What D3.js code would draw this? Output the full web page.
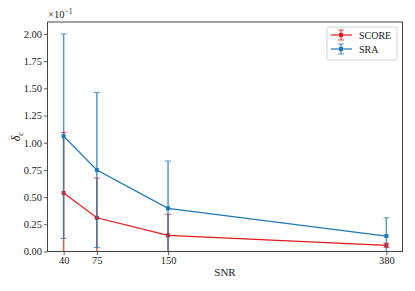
<!DOCTYPE html>
<html><head><meta charset="utf-8">
<script src="https://cdn.jsdelivr.net/npm/d3@7"></script>
<style>body{margin:0;background:#fff}</style>
</head><body><svg id="c" width="415" height="291"></svg>
<script>
const snr = [40, 75, 150, 380];
const xTicks = [40, 75, 150, 380];
const yTicks = [0, 0.25, 0.5, 0.75, 1.0, 1.25, 1.5, 1.75, 2.0];
const scoreMean = [0.538, 0.31, 0.149, 0.057];
const scoreErr = [0.557, 0.365, 0.193, 0.02];
const sraMean = [1.06, 0.749, 0.397, 0.142];
const sraErr = [0.94, 0.712, 0.435, 0.168];
const seriesNames = ["SCORE", "SRA"];
const colors = ["#e41a1c", "#1f78b4"];
const FONT = "'Liberation Serif', 'DejaVu Serif', serif";

const svg = d3.select("#c");
const L = 47.5, R = 402.5, T = 22, B = 251.5;
const x = d3.scaleLinear().domain([23, 397]).range([L, R]);
const y = d3.scaleLinear().domain([0, 2.11]).range([B, T]);

svg.append("clipPath").attr("id", "clip").append("rect")
  .attr("x", L).attr("y", T).attr("width", R - L).attr("height", B - T);

const series = [
  {name: seriesNames[0], mean: scoreMean, err: scoreErr, color: colors[0]},
  {name: seriesNames[1], mean: sraMean, err: sraErr, color: colors[1]}
];

const g = svg.append("g").attr("clip-path", "url(#clip)");
series.forEach(s => {
  const pts = snr.map((v, i) => ({x: v, m: s.mean[i], e: s.err[i]}));
  const eb = g.append("g").attr("opacity", 0.75);
  pts.forEach(p => {
    eb.append("line").attr("x1", x(p.x)).attr("x2", x(p.x))
      .attr("y1", y(p.m - p.e)).attr("y2", y(p.m + p.e))
      .attr("stroke", s.color).attr("stroke-width", 1.5);
    [p.m - p.e, p.m + p.e].forEach(v => {
      eb.append("line").attr("x1", x(p.x) - 3).attr("x2", x(p.x) + 3)
        .attr("y1", y(v)).attr("y2", y(v))
        .attr("stroke", s.color).attr("stroke-width", 1);
    });
  });
  g.append("path").datum(pts)
    .attr("d", d3.line().x(d => x(d.x)).y(d => y(d.m)))
    .attr("fill", "none").attr("stroke", s.color).attr("stroke-width", 1.2);
  g.selectAll(null).data(pts).enter().append("rect")
    .attr("x", d => x(d.x) - 2).attr("y", d => y(d.m) - 2)
    .attr("width", 4).attr("height", 4).attr("fill", s.color);
});

// axes
const xa = svg.append("g").attr("transform", `translate(0,${B})`)
  .call(d3.axisBottom(x).tickValues(xTicks).tickSize(3.5).tickPadding(2).tickFormat(d3.format("d")));
const ya = svg.append("g").attr("transform", `translate(${L},0)`)
  .call(d3.axisLeft(y).tickValues(yTicks).tickSize(3.5).tickPadding(2).tickFormat(d3.format(".2f")));
[xa, ya].forEach(a => {
  a.attr("font-family", null);
  a.select(".domain").remove();
  a.selectAll("line").attr("stroke", "#333").attr("stroke-width", 0.8);
  a.selectAll("text").style("font-size", "10.5px").style("font-family", FONT).attr("fill", "#222");
});
svg.append("rect").attr("x", L).attr("y", T).attr("width", R - L).attr("height", B - T)
  .attr("fill", "none").attr("stroke", "#444").attr("stroke-width", 1);

// labels
svg.append("text").attr("x", (L + R) / 2).attr("y", 276).attr("text-anchor", "middle")
  .style("font-family", FONT).style("font-size", "11px").attr("fill", "#222").text("SNR");
const yl = svg.append("text").attr("transform", `translate(20,${(T + B) / 2}) rotate(-90)`)
  .attr("text-anchor", "middle").style("font-family", FONT).style("font-size", "12px")
  .style("font-style", "italic").attr("fill", "#222");
yl.append("tspan").text("δ");
yl.append("tspan").attr("dy", 3).style("font-size", "8px").text("c");
const ex = svg.append("text").attr("x", 48).attr("y", 18).style("font-family", FONT)
  .style("font-size", "10.5px").attr("fill", "#222");
ex.append("tspan").text("×10");
ex.append("tspan").attr("dy", -4).style("font-size", "7.5px").text("−1");

// legend
const lg = svg.append("g");
lg.append("rect").attr("x", 327).attr("y", 27).attr("width", 70).attr("height", 33).attr("rx", 2)
  .attr("fill", "#fff").attr("fill-opacity", 0.8).attr("stroke", "#ccc").attr("stroke-width", 0.8);
series.forEach((s, i) => {
  const cy = 35 + i * 14, cx = 341;
  lg.append("line").attr("x1", 331).attr("x2", 352).attr("y1", cy).attr("y2", cy)
    .attr("stroke", s.color).attr("stroke-width", 1.2);
  const e = lg.append("g").attr("opacity", 0.75);
  e.append("line").attr("x1", cx).attr("x2", cx).attr("y1", cy - 5).attr("y2", cy + 5)
    .attr("stroke", s.color).attr("stroke-width", 1.5);
  [cy - 5, cy + 5].forEach(v => e.append("line").attr("x1", cx - 3).attr("x2", cx + 3)
    .attr("y1", v).attr("y2", v).attr("stroke", s.color).attr("stroke-width", 1));
  lg.append("rect").attr("x", cx - 2).attr("y", cy - 2).attr("width", 4).attr("height", 4).attr("fill", s.color);
  lg.append("text").attr("x", 359).attr("y", cy + 3.5).style("font-family", FONT)
    .style("font-size", "10px").attr("fill", "#222").text(s.name);
});
</script></body></html>
